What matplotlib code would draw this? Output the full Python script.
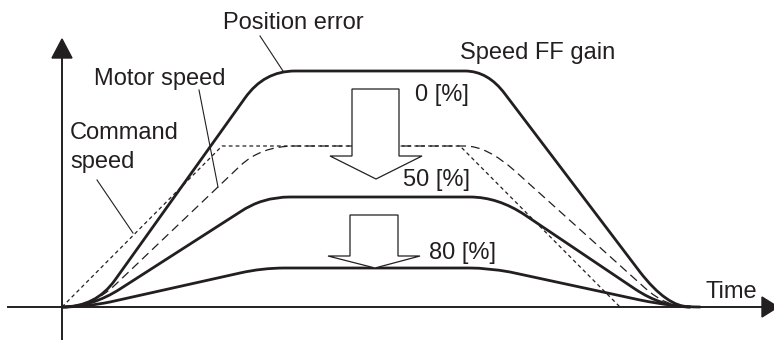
import numpy as np
import matplotlib
matplotlib.use('Agg')
import matplotlib.pyplot as plt
from matplotlib.path import Path
from matplotlib.patches import PathPatch, Polygon

# schematic: response for speed feed-forward gain
# units: time / value (origin at axis crossing)

# command speed (sharp trapezoid)
cmd_t = [0, 160, 398, 558]
cmd_v = [0, 161, 161, 0]

# rounded trapezoids: start, ctrl, end, line, ctrl, end, line, ctrl, end, line, ctrl, end
motor_t = [0, 30, 53, 178, 199, 233, 403, 425, 453, 583, 604, 628]
motor_v = [0, 0, 22, 141, 161, 161, 161, 161, 136, 19, 0, 0]

err0_t = [0, 34, 53, 183, 202, 233, 403, 426, 443, 578, 605, 628]
err0_v = [0, 0, 27, 209, 236, 236, 236, 236, 213, 35, 0, 0]

err50_t = [0, 30, 58, 178, 200, 228, 408, 436, 463, 573, 600, 628]
err50_v = [0, 0, 18, 95, 110, 110, 110, 110, 92, 18, 0, 0]

err80_t = [0, 23, 48, 178, 200, 223, 408, 426, 448, 578, 612, 638]
err80_v = [0, 0, 5, 34, 39, 39, 39, 39, 35, 7, 0, 0]

gain_labels = ['0 [%]', '50 [%]', '80 [%]']

INK = '#231f20'
FONT = 'Liberation Sans'
FS = 17

codes = [Path.MOVETO, Path.CURVE3, Path.CURVE3,
         Path.LINETO, Path.CURVE3, Path.CURVE3,
         Path.LINETO, Path.CURVE3, Path.CURVE3,
         Path.LINETO, Path.CURVE3, Path.CURVE3]


def rounded(ax, t, v, **kw):
    p = Path(np.column_stack([t, v]), codes)
    ax.add_patch(PathPatch(p, fill=False, **kw))


def hollow_arrow(ax, x0, x1, top, neck, hx0, hx1, tip):
    pts = [(x0, top), (x1, top), (x1, neck), (hx1, neck), (tip[0], tip[1]),
           (hx0, neck), (x0, neck)]
    ax.add_patch(Polygon(pts, closed=True, facecolor='white', edgecolor=INK,
                         lw=0.9, zorder=4))


fig = plt.figure(figsize=(7.74, 3.4), dpi=100)
ax = fig.add_axes([0, 0, 1, 1])
ax.set_xlim(-62, 712)
ax.set_ylim(-33, 307)
ax.axis('off')

# axes with arrows
ax.plot([-54, 702], [0, 0], color=INK, lw=1.4, zorder=5)
ax.plot([0, 0], [-40, 250], color=INK, lw=1.4, zorder=5)
ax.add_patch(Polygon([(700, -10), (716, 0), (700, 10)], closed=True, color=INK, zorder=5))
ax.add_patch(Polygon([(-10, 249), (0, 268), (10, 249)], closed=True, color=INK, zorder=5))

# speeds
ax.plot(cmd_t, cmd_v, color=INK, lw=0.9, dashes=(3, 2.5), zorder=2)
rounded(ax, motor_t, motor_v, edgecolor=INK, lw=0.9, linestyle=(0, (7, 4)), zorder=2)

# position errors
for t, v in [(err0_t, err0_v), (err50_t, err50_v), (err80_t, err80_v)]:
    rounded(ax, t, v, edgecolor=INK, lw=2.0, zorder=3, capstyle='round')

hollow_arrow(ax, 290, 337, 218, 151, 268, 360, (314, 128))
hollow_arrow(ax, 288, 336, 92, 51, 266, 358, (313, 39))

# leader lines
ax.plot([198, 221], [271, 236], color=INK, lw=0.8)
ax.plot([137, 156], [217, 120], color=INK, lw=0.8)
ax.plot([35, 71], [127, 74], color=INK, lw=0.8)

txt = dict(fontsize=FS, family=FONT, color=INK, ha='left', va='baseline')
ax.text(161, 278, 'Position error', **txt)
ax.text(32, 222, 'Motor speed', **txt)
ax.text(8, 168, 'Command', **txt)
ax.text(8, 139, 'speed', **txt)
ax.text(398, 248, 'Speed FF gain', **txt)
ax.text(353, 206, gain_labels[0], **txt)
ax.text(341, 121, gain_labels[1], **txt)
ax.text(367, 48, gain_labels[2], **txt)
ax.text(643, 9, 'Time', **txt)

fig.savefig('out.png', dpi=100)
